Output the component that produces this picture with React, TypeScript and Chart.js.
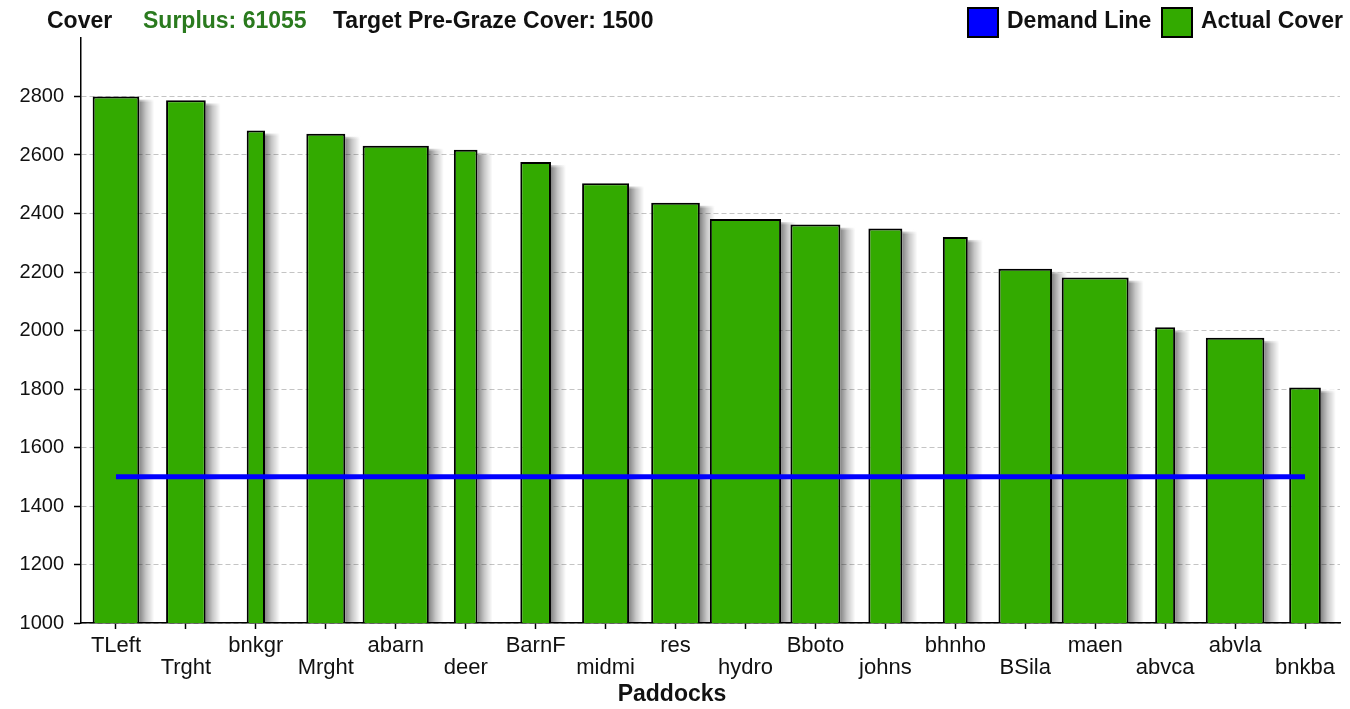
import React, { useEffect, useRef } from "react";
import { Chart, registerables } from "chart.js";

Chart.register(...registerables);

// ---- Data ----
const paddocks = [
  "TLeft", "Trght", "bnkgr", "Mrght", "abarn", "deer", "BarnF", "midmi", "res",
  "hydro", "Bboto", "johns", "bhnho", "BSila", "maen", "abvca", "abvla", "bnkba",
];
const actualCover = [
  2800, 2787, 2684, 2673, 2632, 2618, 2576, 2503, 2437,
  2381, 2362, 2349, 2320, 2211, 2181, 2011, 1975, 1805,
];
// paddock areas (bar width encodes area)
const paddockArea = [
  4.67, 3.97, 1.83, 3.9, 6.63, 2.37, 3.07, 4.7, 4.87,
  7.13, 5.0, 3.4, 2.5, 5.36, 6.7, 2.0, 5.86, 3.17,
];
const demandLine = [
  1500, 1500, 1500, 1500, 1500, 1500, 1500, 1500, 1500,
  1500, 1500, 1500, 1500, 1500, 1500, 1500, 1500, 1500,
];
const areaPerSlot = 7.0;
const yMin = 1000;
const yMax = 3000;
const yStep = 200;
const yLastLabel = 2800;
const surplus = 61055;
const targetCover = 1500;

const GREEN = "#33aa00";
const BLUE = "#0000ff";
const FONT = '"Liberation Sans", Arial, sans-serif';

const shadowPlugin = {
  id: "barShadows",
  beforeDatasetsDraw(chart: any) {
    const ctx = chart.ctx;
    const area = chart.chartArea;
    ctx.save();
    ctx.beginPath();
    ctx.rect(area.left, area.top, area.right - area.left, area.bottom - area.top);
    ctx.clip();
    chart.data.datasets.forEach((ds: any, i: number) => {
      if (ds.type !== "bar") return;
      const meta = chart.getDatasetMeta(i);
      meta.data.forEach((el: any) => {
        if (!el) return;
        const props = el.getProps(["x", "y", "base", "width"], true);
        if (props.y == null || isNaN(props.y)) return;
        const right = props.x + props.width / 2;
        const sw = 15;
        const g = ctx.createLinearGradient(right, 0, right + sw, 0);
        g.addColorStop(0, "rgba(0,0,0,0.48)");
        g.addColorStop(0.45, "rgba(0,0,0,0.22)");
        g.addColorStop(1, "rgba(0,0,0,0)");
        ctx.fillStyle = g;
        ctx.fillRect(right, props.y + 3, sw, props.base - props.y - 3);
        const g2 = ctx.createLinearGradient(0, props.y + 1, 0, props.y + 6);
        g2.addColorStop(0, "rgba(255,255,255,1)");
        g2.addColorStop(1, "rgba(255,255,255,0)");
        ctx.fillStyle = g2;
        ctx.fillRect(right, props.y + 1, sw, 5);
      });
    });
    ctx.restore();
  },
};

const textPlugin = {
  id: "headerTexts",
  afterDraw(chart: any) {
    const ctx = chart.ctx;
    ctx.save();
    ctx.textBaseline = "middle";
    ctx.textAlign = "left";
    ctx.font = `bold 23px ${FONT}`;
    const y = 22;
    ctx.fillStyle = "#111";
    ctx.fillText("Cover", 47, y);
    ctx.fillStyle = "#2a7a1e";
    ctx.fillText(`Surplus: ${surplus}`, 143, y);
    ctx.fillStyle = "#111";
    ctx.fillText(`Target Pre-Graze Cover: ${targetCover}`, 333, y);

    // legend
    const items = [
      { label: "Demand Line", color: BLUE, x: 968 },
      { label: "Actual Cover", color: GREEN, x: 1162 },
    ];
    items.forEach((it) => {
      ctx.fillStyle = it.color;
      ctx.fillRect(it.x, 8, 30, 29);
      ctx.lineWidth = 2;
      ctx.strokeStyle = "#000";
      ctx.strokeRect(it.x, 8, 30, 29);
      ctx.fillStyle = "#111";
      ctx.fillText(it.label, it.x + 39, y);
    });

    // x-axis title
    ctx.textAlign = "center";
    ctx.fillText("Paddocks", 672, 695);
    ctx.restore();
  },
};

export default function App() {
  const ref = useRef<HTMLCanvasElement | null>(null);

  useEffect(() => {
    if (!ref.current) return;
    const barSets = paddocks.map((p, i) => ({
      type: "bar" as const,
      label: p,
      data: paddocks.map((_, j) => (j === i ? actualCover[i] : null)),
      backgroundColor: GREEN,
      borderColor: "#000",
      borderWidth: 2,
      grouped: false,
      barPercentage: paddockArea[i] / areaPerSlot,
      categoryPercentage: 1,
      order: 100 - i,
    }));
    const chart = new Chart(ref.current, {
      type: "bar",
      data: {
        labels: paddocks,
        datasets: [
          ...barSets,
          {
            type: "line" as const,
            label: "Demand Line",
            data: demandLine,
            borderColor: BLUE,
            borderWidth: 5,
            pointRadius: 0,
            fill: false,
            tension: 0,
            order: 0,
          } as any,
        ],
      },
      options: {
        animation: false,
        responsive: false,
        devicePixelRatio: 1,
        events: [],
        layout: { padding: { left: 0, right: 10, top: 38, bottom: 0 } },
        plugins: {
          legend: { display: false },
          title: { display: false },
          tooltip: { enabled: false },
        },
        scales: {
          x: {
            offset: true,
            grid: {
              offset: false,
              drawOnChartArea: false,
              drawTicks: true,
              tickLength: 6,
              tickColor: "#000",
              tickWidth: 1.5,
            },
            border: { display: true, color: "#000", width: 1.5 },
            ticks: {
              autoSkip: false,
              maxRotation: 0,
              minRotation: 0,
              padding: 6,
              color: "#111",
              font: { family: FONT, size: 22, lineHeight: 1.0 },
              callback: (_v: any, i: number) =>
                i % 2 === 0 ? [paddocks[i]] : ["", paddocks[i]],
            },
            afterFit: (scale: any) => {
              scale.height = 86;
            },
          },
          y: {
            min: yMin,
            max: yMax,
            grid: {
              color: "#c4c4c4",
              lineWidth: 1,
              drawTicks: true,
              tickLength: 7,
              tickColor: "#000",
              tickWidth: 1.5,
              tickBorderDash: [],
            },
            border: { display: true, color: "#000", width: 1.5, dash: [5, 3] },
            ticks: {
              stepSize: yStep,
              padding: 10,
              color: "#111",
              font: { family: FONT, size: 20 },
              callback: (v: any) => String(v),
            },
            afterBuildTicks: (scale: any) => {
              scale.ticks = scale.ticks.filter((t: any) => t.value <= yLastLabel);
            },
            afterFit: (scale: any) => {
              scale.width = 81;
            },
          },
        },
      },
      plugins: [shadowPlugin, textPlugin],
    } as any);
    return () => chart.destroy();
  }, []);

  return (
    <div style={{ position: "absolute", left: 0, top: 0, width: 1350, height: 709, background: "#fff" }}>
      <canvas ref={ref} width={1350} height={709} style={{ width: 1350, height: 709 }} />
    </div>
  );
}
